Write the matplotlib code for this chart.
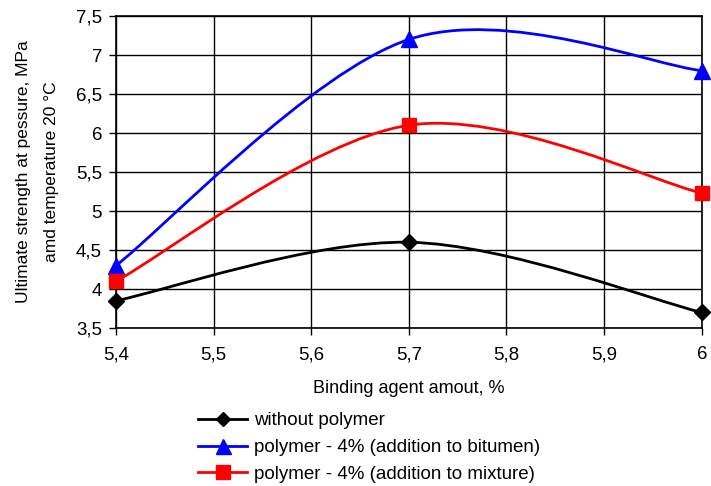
import matplotlib
matplotlib.use("Agg")
import matplotlib.pyplot as plt
import numpy as np
from matplotlib.path import Path
from matplotlib.patches import PathPatch
from matplotlib.lines import Line2D
from matplotlib.ticker import FuncFormatter, MultipleLocator

plt.rcParams["font.family"] = ["Liberation Sans", "DejaVu Sans"]

binder = [5.4, 5.7, 6.0]
without_polymer = [3.85, 4.6, 3.7]
polymer_bitumen = [4.3, 7.2, 6.8]
polymer_mixture = [4.1, 6.1, 5.23]

series = [
    ("without polymer", without_polymer, "black", "D", 8),
    ("polymer - 4% (addition to bitumen)", polymer_bitumen, "#0000ff", "^", 12),
    ("polymer - 4% (addition to mixture)", polymer_mixture, "#ff0000", "s", 10.5),
]


def smooth_path(xs, ys):
    # spreadsheet-style smoothed line: cubic Bezier between the points
    p = np.column_stack([xs, ys]).astype(float)
    n = len(p)
    verts = [p[0]]
    codes = [Path.MOVETO]
    for i in range(n - 1):
        prev = p[max(i - 1, 0)]
        nxt = p[min(i + 2, n - 1)]
        c1 = p[i] + (p[i + 1] - prev) / 6
        c2 = p[i + 1] - (nxt - p[i]) / 6
        verts += [c1, c2, p[i + 1]]
        codes += [Path.CURVE4] * 3
    return Path(verts, codes)


fig = plt.figure(figsize=(7.11, 4.86), dpi=100)
ax = fig.add_axes([0.163, 0.325, 0.824, 0.642])

for label, ys, color, marker, ms in series:
    ax.add_patch(PathPatch(smooth_path(binder, ys), facecolor="none",
                           edgecolor=color, lw=2, zorder=3))
    ax.plot(binder, ys, linestyle="none", marker=marker, color=color,
            markersize=ms, zorder=4, clip_on=False)

ax.set_xlim(5.4, 6.0)
ax.set_ylim(3.5, 7.5)
ax.xaxis.set_major_locator(MultipleLocator(0.1))
ax.yaxis.set_major_locator(MultipleLocator(0.5))
fmt = FuncFormatter(lambda v, pos: ("%g" % round(v, 2)).replace(".", ","))
ax.xaxis.set_major_formatter(fmt)
ax.yaxis.set_major_formatter(fmt)
ax.grid(True, color="black", lw=1)
ax.set_axisbelow(True)
for s in ax.spines.values():
    s.set_linewidth(1.2)
ax.tick_params(direction="out", length=5, width=1, labelsize=13.5,
               colors="black", pad=5)
ax.tick_params(axis="x", pad=8)

ax.set_xlabel("Binding agent amout, %", fontsize=13, labelpad=12)
ax.set_ylabel("Ultimate strength at pessure, MPa\namd temperature 20 \u00b0C",
              fontsize=12.5, labelpad=12, linespacing=2.1)

handles = [Line2D([], [], color=c, lw=2, marker=m, markersize=ms * 0.9)
           for _, _, c, m, ms in series]
fig.legend(handles, [s[0] for s in series], loc="upper left",
           bbox_to_anchor=(0.279, 0.152), frameon=False, fontsize=13.5,
           handlelength=2.6, handletextpad=0.35, labelspacing=0.52,
           borderaxespad=0, borderpad=0)

fig.savefig("out.png", dpi=100)
